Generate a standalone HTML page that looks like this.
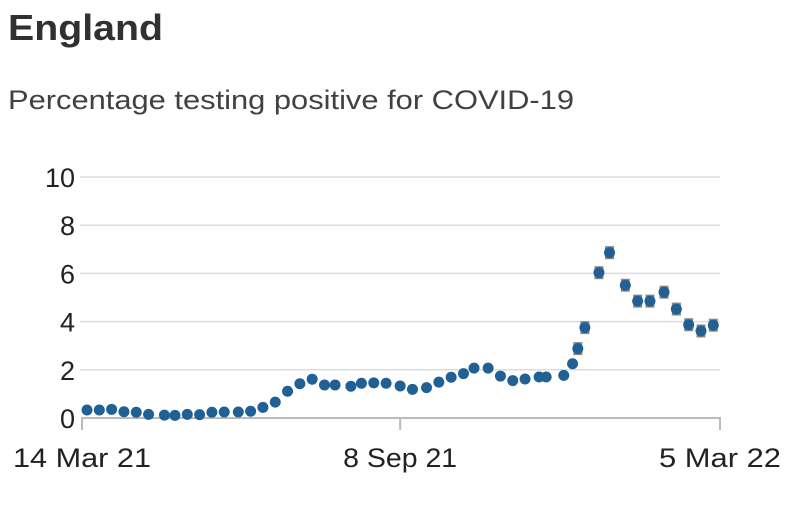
<!DOCTYPE html>
<html><head><meta charset="utf-8"><style>
body{margin:0;background:#fff;font-family:"Liberation Sans",sans-serif;}
svg{display:block}
</style></head><body>
<svg width="805" height="505">
<text x="8" y="40" font-size="36" font-weight="bold" fill="#323132" textLength="155" lengthAdjust="spacingAndGlyphs">England</text>
<text x="8" y="109" font-size="27" fill="#414042" textLength="566" lengthAdjust="spacingAndGlyphs">Percentage testing positive for COVID-19</text>
<g id="grid"></g><g id="marks"></g>
</svg>
<script>
const dayOffsets=[0,7,14,21,28,35,44,50,57,64,71,78,86,93,100,107,114,121,128,135,141,150,156,163,170,178,185,193,200,207,214,220,228,235,242,249,257,261,271,276,279,283,291,297,306,313,320,328,335,342,349,356];
const values=[0.33,0.33,0.36,0.26,0.24,0.15,0.12,0.11,0.15,0.14,0.24,0.25,0.25,0.28,0.44,0.66,1.11,1.42,1.61,1.37,1.37,1.32,1.44,1.46,1.44,1.33,1.19,1.26,1.49,1.69,1.84,2.07,2.07,1.74,1.55,1.62,1.70,1.70,1.77,2.25,2.88,3.75,6.03,6.86,5.51,4.85,4.85,5.22,4.52,3.87,3.61,3.85];
const yTicks=[0,2,4,6,8,10];
const xTickDays=[0,178,356];
const xTickLabels=["14 Mar 21","8 Sep 21","5 Mar 22"];
const NS="http://www.w3.org/2000/svg";
const xs=d=>87+d*(713.3-87)/356;
const ys=v=>418-v*24.1;
function mk(tag,attrs,parent,txt){const e=document.createElementNS(NS,tag);for(const k in attrs)e.setAttribute(k,attrs[k]);if(txt!==undefined)e.textContent=txt;parent.appendChild(e);return e;}
const g=document.getElementById('grid'),m=document.getElementById('marks');
yTicks.forEach(t=>{
  if(t>0){const l=mk('line',{x1:80,x2:720,y1:ys(t),y2:ys(t),stroke:'#ddd','stroke-width':1.5},g);
  
  }
  const tx=mk('text',{x:75,y:ys(t)+10,'font-size':27,'text-anchor':'end',fill:'#222'},g,String(t));
  
  
});
const ax=mk('line',{x1:81,x2:721,y1:418,y2:418,stroke:'#bbb','stroke-width':2},g);


const lens=[138,114,122];
xTickDays.forEach((d,i)=>{
  let x=i===0?82:(i===xTickDays.length-1?720:xs(d));
  const t=mk('line',{x1:x,x2:x,y1:418,y2:430,stroke:'#bbb','stroke-width':2},g);
  
  
  const tx=mk('text',{x:x,y:467,'font-size':27,'text-anchor':'middle',fill:'#222',textLength:lens[i],lengthAdjust:'spacingAndGlyphs'},g,xTickLabels[i]);
  
  
});
dayOffsets.forEach((d,i)=>{
  const v=values[i];
  if(v>2.5){const r=mk('rect',{x:xs(d)-4.5,y:ys(v)-6.5,width:9,height:13,fill:'#888'},m);
  
  }
  const c=mk('circle',{cx:xs(d),cy:ys(v),r:5.5,fill:'#206095'},m);
  
  
});
</script>
</body></html>
